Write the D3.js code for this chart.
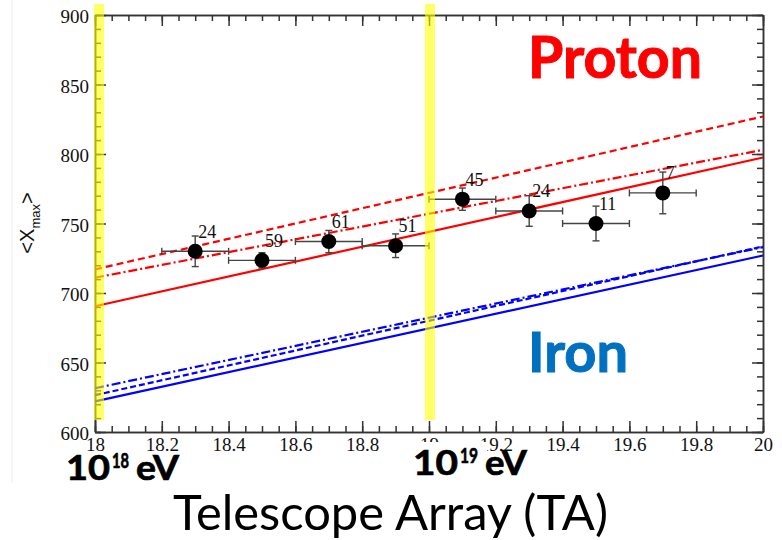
<!DOCTYPE html>
<html>
<head>
<meta charset="utf-8">
<script src="https://cdn.jsdelivr.net/npm/d3@7"></script>
<style>
  body { margin: 0; background: #fff; }
  svg { display: block; }
  .axis path, .axis line { stroke: #333; stroke-width: 1.5; }
</style>
</head>
<body>
<div class="chart"></div>
<script>
// Telescope Array <Xmax> data points (log10 E bins)
const logE = [18.3, 18.5, 18.7, 18.9, 19.1, 19.3, 19.5, 19.7];
const xmax = [730, 723.5, 737, 734, 767.5, 759, 750, 772];
const xmaxErr = [11, 5.5, 8, 8.5, 8, 11, 12.5, 15];
const eventCounts = [24, 59, 61, 51, 45, 24, 11, 7];
const binHalf = 0.1;

// model lines, value at log E = 18 and 20
const modelE = [18, 20];
const protonSolid = [690.5, 797.5];
const protonDashed = [717, 827];
const protonDashDot = [711, 803];
const ironSolid = [622, 727];
const ironDashed = [626.5, 733.5];
const ironDashDot = [631.5, 733];

// axis ticks
const xMajor = [18, 18.2, 18.4, 18.6, 18.8, 19, 19.2, 19.4, 19.6, 19.8, 20];
const xTickLabels = ["18", "18.2", "18.4", "18.6", "18.8", "19", "19.2", "19.4", "19.6", "19.8", "20"];
const yMajor = [600, 650, 700, 750, 800, 850, 900];
const yTickLabels = ["600", "650", "700", "750", "800", "850", "900"];

// highlighted energies (10^18 and 10^19 eV)
const highlightE = [18.012, 19.003];

const width = 782, height = 540;
const plot = {left: 95, right: 763, top: 15, bottom: 432};
const serif = "'Liberation Serif', 'Times New Roman', Times, serif";
const calibri = "Lato, 'Open Sans', sans-serif";

const svg = d3.select(".chart").append("svg")
  .attr("width", width)
  .attr("height", height);

const x = d3.scaleLinear().domain([18, 20]).range([plot.left, plot.right]);
const y = d3.scaleLinear().domain([600, 900]).range([plot.bottom, plot.top]);

// faint slide border line
svg.append("line")
  .attr("x1", 12).attr("x2", 12).attr("y1", 0).attr("y2", 483)
  .attr("stroke", "#ededed");

const xMinor = d3.range(0, 41).map(i => +(18 + i * 0.05).toFixed(2));
const yMinor = d3.range(600, 901, 10);

function styleLabels(g) {
  g.attr("font-family", serif).attr("font-size", 19);
  g.selectAll(".tick text").attr("fill", "#111");
}

// bottom axis
svg.append("g").attr("class", "axis")
  .attr("transform", `translate(0,${plot.bottom})`)
  .call(d3.axisBottom(x).tickValues(xMinor).tickSize(-6).tickSizeOuter(0).tickFormat(""));
svg.append("g").attr("class", "axis")
  .attr("transform", `translate(0,${plot.bottom})`)
  .call(d3.axisBottom(x).tickValues(xMajor).tickSize(-11).tickSizeOuter(0).tickPadding(6)
    .tickFormat((d, i) => xTickLabels[i]))
  .call(styleLabels);

// top axis
svg.append("g").attr("class", "axis")
  .attr("transform", `translate(0,${plot.top})`)
  .call(d3.axisTop(x).tickValues(xMinor).tickSize(-6).tickSizeOuter(0).tickFormat(""));
svg.append("g").attr("class", "axis")
  .attr("transform", `translate(0,${plot.top})`)
  .call(d3.axisTop(x).tickValues(xMajor).tickSize(-11).tickSizeOuter(0).tickFormat(""));

// left axis
svg.append("g").attr("class", "axis")
  .attr("transform", `translate(${plot.left},0)`)
  .call(d3.axisLeft(y).tickValues(yMinor).tickSize(-6).tickSizeOuter(0).tickFormat(""));
svg.append("g").attr("class", "axis")
  .attr("transform", `translate(${plot.left},0)`)
  .call(d3.axisLeft(y).tickValues(yMajor).tickSize(-11).tickSizeOuter(0).tickPadding(6)
    .tickFormat((d, i) => yTickLabels[i]))
  .call(styleLabels)
  .selectAll(".tick text").attr("dy", "0.42em");

// right axis
svg.append("g").attr("class", "axis")
  .attr("transform", `translate(${plot.right},0)`)
  .call(d3.axisRight(y).tickValues(yMinor).tickSize(-6).tickSizeOuter(0).tickFormat(""));
svg.append("g").attr("class", "axis")
  .attr("transform", `translate(${plot.right},0)`)
  .call(d3.axisRight(y).tickValues(yMajor).tickSize(-11).tickSizeOuter(0).tickFormat(""));

// y axis title <X_max>
const yTitle = svg.append("text")
  .attr("transform", "translate(34,223) rotate(-90)")
  .attr("text-anchor", "middle")
  .attr("font-family", "'Liberation Sans', Arial, sans-serif")
  .attr("font-size", 20)
  .attr("fill", "#111");
yTitle.append("tspan").text("<X");
yTitle.append("tspan").attr("dy", 6).attr("font-size", 13).text("max");
yTitle.append("tspan").attr("dy", -6).text(">");

// model lines
const line = d3.line().x(d => x(d[0])).y(d => y(d[1]));
const models = [
  {vals: protonSolid, color: "#ff0000", dash: null},
  {vals: protonDashed, color: "#ff0000", dash: "7,4"},
  {vals: protonDashDot, color: "#ff0000", dash: "9,3,2,3"},
  {vals: ironSolid, color: "#0000ff", dash: null},
  {vals: ironDashed, color: "#0000ff", dash: "6,3"},
  {vals: ironDashDot, color: "#0000ff", dash: "9,3,2,3"}
];
svg.append("g").selectAll("path")
  .data(models)
  .enter()
  .append("path")
    .attr("d", m => line(modelE.map((e, i) => [e, m.vals[i]])))
    .attr("fill", "none")
    .attr("stroke", m => m.color)
    .attr("stroke-width", 2.2)
    .attr("stroke-dasharray", m => m.dash);

// data points with error bars
const pts = logE.map((e, i) => ({e: e, v: xmax[i], err: xmaxErr[i], n: eventCounts[i]}));
const ptG = svg.append("g").selectAll("g")
  .data(pts)
  .enter()
  .append("g");

const barColor = "#444";
ptG.append("line")
  .attr("x1", d => x(d.e - binHalf)).attr("x2", d => x(d.e + binHalf))
  .attr("y1", d => y(d.v)).attr("y2", d => y(d.v))
  .attr("stroke", barColor).attr("stroke-width", 1.4);
ptG.append("line")
  .attr("x1", d => x(d.e)).attr("x2", d => x(d.e))
  .attr("y1", d => y(d.v - d.err)).attr("y2", d => y(d.v + d.err))
  .attr("stroke", barColor).attr("stroke-width", 1.4);
// caps
[-1, 1].forEach(s => {
  ptG.append("line")
    .attr("x1", d => x(d.e + s * binHalf)).attr("x2", d => x(d.e + s * binHalf))
    .attr("y1", d => y(d.v) - 3.5).attr("y2", d => y(d.v) + 3.5)
    .attr("stroke", barColor).attr("stroke-width", 1.4);
  ptG.append("line")
    .attr("x1", d => x(d.e) - 3.5).attr("x2", d => x(d.e) + 3.5)
    .attr("y1", d => y(d.v + s * d.err)).attr("y2", d => y(d.v + s * d.err))
    .attr("stroke", barColor).attr("stroke-width", 1.4);
});
ptG.append("circle")
  .attr("cx", d => x(d.e)).attr("cy", d => y(d.v))
  .attr("r", 7.5)
  .attr("fill", "#000");
ptG.append("text")
  .attr("x", d => x(d.e) + 3)
  .attr("y", d => y(d.v) - 13.5)
  .attr("font-family", serif)
  .attr("font-size", 18)
  .attr("fill", "#111")
  .text(d => d.n);

// yellow highlight bands
svg.append("g").selectAll("rect")
  .data(highlightE)
  .enter()
  .append("rect")
    .attr("x", d => x(d) - 5)
    .attr("width", 10)
    .attr("y", 4)
    .attr("height", 416)
    .attr("fill", "#ffff00")
    .attr("opacity", 0.6);

// white box behind 10^19 label
svg.append("rect")
  .attr("x", 402).attr("y", 442).attr("width", 85).attr("height", 44)
  .attr("fill", "#fff");

function energyLabel(x0, base, pow, widths) {
  const parts = [
    {t: "10", x: x0, y: base, size: 34, w: widths[0]},
    {t: pow, x: x0 + widths[0] + 2, y: base - 12, size: 21, w: widths[1]},
    {t: "eV", x: x0 + widths[0] + widths[1] + 9, y: base, size: 34, w: widths[2]}
  ];
  parts.forEach(p => {
    svg.append("text").attr("x", p.x).attr("y", p.y)
      .attr("font-family", calibri).attr("font-weight", "bold").attr("font-size", p.size)
      .attr("stroke", "#000").attr("stroke-width", 0.7)
      .attr("textLength", p.w).attr("lengthAdjust", "spacingAndGlyphs")
      .text(p.t);
  });
}
energyLabel(66, 480, "18", [44, 17, 43]);
energyLabel(413, 475, "19", [45, 18, 42]);

svg.append("text")
  .attr("x", 173).attr("y", 530)
  .attr("font-family", calibri).attr("font-size", 49)
  .attr("textLength", 435).attr("lengthAdjust", "spacingAndGlyphs")
  .attr("fill", "#000")
  .text("Telescope Array (TA)");

svg.append("text")
  .attr("x", 528).attr("y", 78)
  .attr("font-family", calibri).attr("font-weight", "bold").attr("font-size", 57)
  .attr("textLength", 174).attr("lengthAdjust", "spacingAndGlyphs")
  .attr("fill", "#ff0000").attr("stroke", "#ff0000").attr("stroke-width", 1)
  .text("Proton");

svg.append("text")
  .attr("x", 528).attr("y", 372)
  .attr("font-family", calibri).attr("font-weight", "bold").attr("font-size", 56)
  .attr("textLength", 100).attr("lengthAdjust", "spacingAndGlyphs")
  .attr("fill", "#0070c0").attr("stroke", "#0070c0").attr("stroke-width", 1)
  .text("Iron");
</script>
</body>
</html>
